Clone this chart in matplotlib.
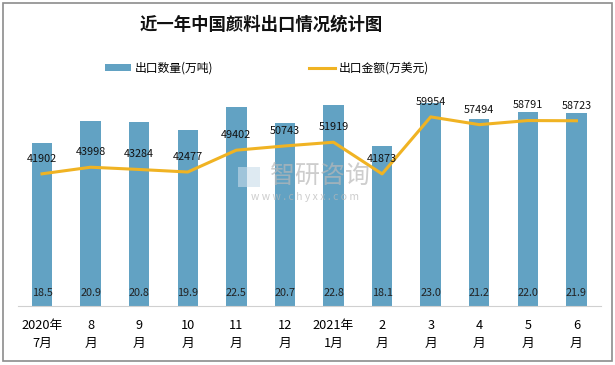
import matplotlib
matplotlib.use("Agg")
import matplotlib.pyplot as plt
from matplotlib.patches import Rectangle

plt.rcParams['font.family'] = ['Noto Sans CJK SC', 'DejaVu Sans']

categories = ["2020年\n7月", "8\n月", "9\n月", "10\n月", "11\n月", "12\n月",
              "2021年\n1月", "2\n月", "3\n月", "4\n月", "5\n月", "6\n月"]
volume = [18.5, 20.9, 20.8, 19.9, 22.5, 20.7, 22.8, 18.1, 23.0, 21.2, 22.0, 21.9]
value = [41902, 43998, 43284, 42477, 49402, 50743, 51919, 41873, 59954, 57494, 58791, 58723]

bar_color = '#62A2C3'
line_color = '#F0B323'

fig = plt.figure(figsize=(6.15, 3.65), dpi=100)
fig.patches.append(Rectangle((0.005, 0.011), 0.99, 0.98, transform=fig.transFigure,
                             fill=False, edgecolor='#8c8c8c', linewidth=1.2))

ax = fig.add_axes([0.0288, 0.1616, 0.948, 0.605])
x = list(range(len(categories)))
bars = ax.bar(x, volume, width=0.42, color=bar_color, zorder=2, label='出口数量(万吨)')
ax.set_ylim(0, 25)
ax.set_xlim(-0.5, len(categories) - 0.5)
for xi, v in zip(x, volume):
    ax.text(xi, 1.45, f"{v:.1f}", ha='center', va='center', fontsize=7.8, color='#222222', zorder=5)
for s in ['top', 'left', 'right']:
    ax.spines[s].set_visible(False)
ax.spines['bottom'].set_color('#d0d0d0')
ax.set_yticks([])
ax.set_xticks(x)
ax.set_xticklabels(categories, fontsize=9.2, linespacing=1.55)
ax.tick_params(axis='x', length=0, pad=9)

ax2 = ax.twinx()
ax2.plot(x, value, color=line_color, linewidth=2.2, zorder=4, label='出口金额(万美元)')
ax2.set_ylim(0, 70000)
ax2.set_yticks([])
for s in ['top', 'left', 'right', 'bottom']:
    ax2.spines[s].set_visible(False)
for xi, v in zip(x, value):
    ax2.text(xi, v + 3200, f"{v}", ha='center', va='bottom', fontsize=7.8, color='#111111', zorder=5)

# watermark
fig.patches.append(Rectangle((238/615, (365-187)/365), 22/615, 20/365, transform=fig.transFigure,
                             facecolor='#c9dcea', edgecolor='none', alpha=0.6, zorder=1))
fig.text(320/615, (365-176)/365, '智研咨询', fontsize=18, color='#b8b8b8', alpha=0.7,
         ha='center', va='center', zorder=3)
fig.text(305/615, (365-197)/365, 'w w w . c h y x x . c o m', fontsize=7.5, color='#b8b8b8',
         alpha=0.7, ha='center', va='center', zorder=3)

fig.text(261/615, 0.932, '近一年中国颜料出口情况统计图', fontsize=12.5, fontweight='bold',
         ha='center', va='center', color='#111111')

h1, l1 = ax.get_legend_handles_labels()
h2, l2 = ax2.get_legend_handles_labels()
fig.legend(h1 + h2, l1 + l2, loc='center', bbox_to_anchor=(267/615, 0.813), ncol=2,
           frameon=False, fontsize=8.5, handlelength=2.2, handleheight=0.6,
           columnspacing=8.15, handletextpad=0.3)

fig.savefig('out.png', dpi=100)
